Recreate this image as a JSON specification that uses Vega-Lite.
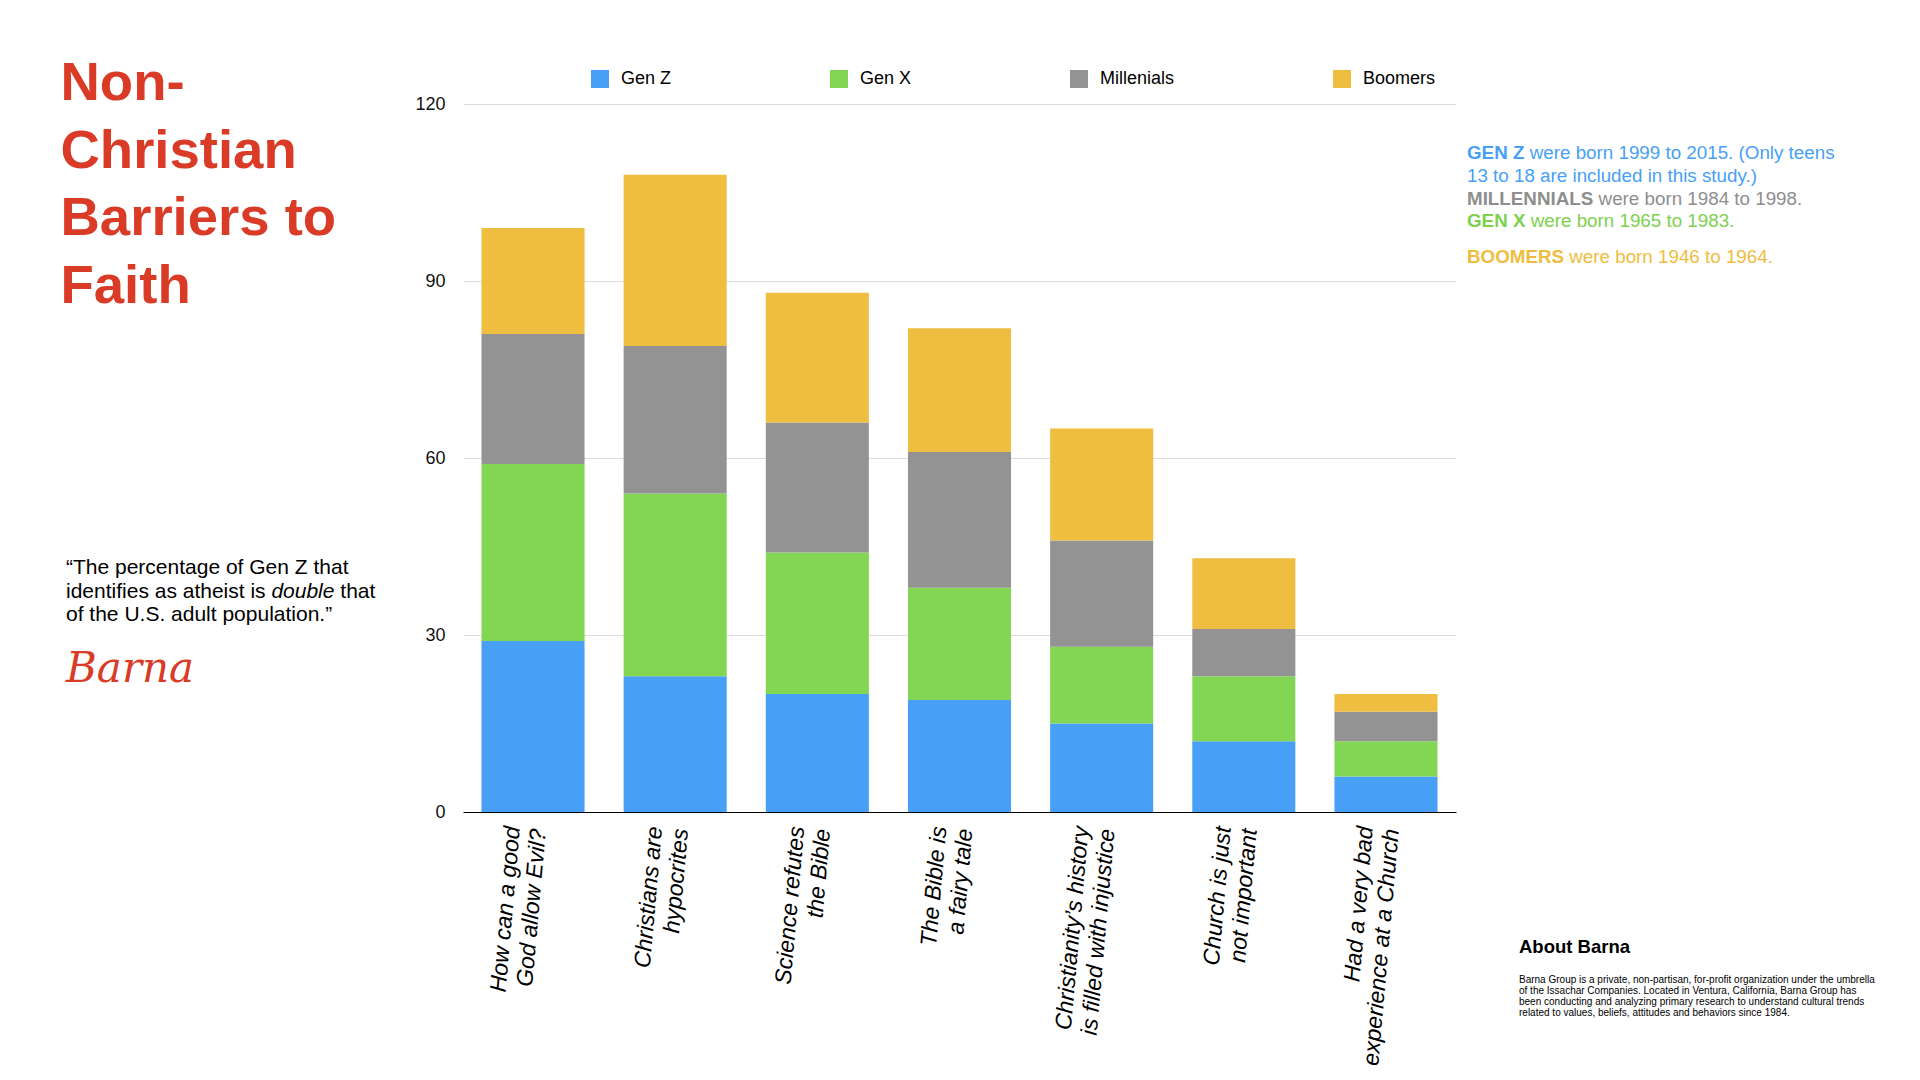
{
  "$schema": "https://vega.github.io/schema/vega-lite/v6.json",
  "width": 993,
  "height": 708,
  "autosize": {"type": "none"},
  "padding": {"left": 463, "top": 104, "right": 464, "bottom": 268},
  "background": "white",
  "config": {
    "view": {"stroke": null},
    "font": "Liberation Sans"
  },
  "layer": [
    {
      "data": {
        "values": [
          {"question": "How can a good\nGod allow Evil?", "generation": "Gen Z", "value": 29},
          {"question": "How can a good\nGod allow Evil?", "generation": "Gen X", "value": 30},
          {"question": "How can a good\nGod allow Evil?", "generation": "Millenials", "value": 22},
          {"question": "How can a good\nGod allow Evil?", "generation": "Boomers", "value": 18},
          {"question": "Christians are\nhypocrites", "generation": "Gen Z", "value": 23},
          {"question": "Christians are\nhypocrites", "generation": "Gen X", "value": 31},
          {"question": "Christians are\nhypocrites", "generation": "Millenials", "value": 25},
          {"question": "Christians are\nhypocrites", "generation": "Boomers", "value": 29},
          {"question": "Science refutes\nthe Bible", "generation": "Gen Z", "value": 20},
          {"question": "Science refutes\nthe Bible", "generation": "Gen X", "value": 24},
          {"question": "Science refutes\nthe Bible", "generation": "Millenials", "value": 22},
          {"question": "Science refutes\nthe Bible", "generation": "Boomers", "value": 22},
          {"question": "The Bible is\na fairy tale", "generation": "Gen Z", "value": 19},
          {"question": "The Bible is\na fairy tale", "generation": "Gen X", "value": 19},
          {"question": "The Bible is\na fairy tale", "generation": "Millenials", "value": 23},
          {"question": "The Bible is\na fairy tale", "generation": "Boomers", "value": 21},
          {"question": "Christianity’s history\nis filled with injustice", "generation": "Gen Z", "value": 15},
          {"question": "Christianity’s history\nis filled with injustice", "generation": "Gen X", "value": 13},
          {"question": "Christianity’s history\nis filled with injustice", "generation": "Millenials", "value": 18},
          {"question": "Christianity’s history\nis filled with injustice", "generation": "Boomers", "value": 19},
          {"question": "Church is just\nnot important", "generation": "Gen Z", "value": 12},
          {"question": "Church is just\nnot important", "generation": "Gen X", "value": 11},
          {"question": "Church is just\nnot important", "generation": "Millenials", "value": 8},
          {"question": "Church is just\nnot important", "generation": "Boomers", "value": 12},
          {"question": "Had a very bad\nexperience at a Church", "generation": "Gen Z", "value": 6},
          {"question": "Had a very bad\nexperience at a Church", "generation": "Gen X", "value": 6},
          {"question": "Had a very bad\nexperience at a Church", "generation": "Millenials", "value": 5},
          {"question": "Had a very bad\nexperience at a Church", "generation": "Boomers", "value": 3}
        ]
      },
      "transform": [
        {"window": [{"op": "row_number", "as": "stack_rank"}], "groupby": ["question"]}
      ],
      "mark": {"type": "bar"},
      "encoding": {
        "x": {
          "field": "question",
          "type": "nominal",
          "sort": null,
          "scale": {"paddingInner": 0.275, "paddingOuter": 0.13},
          "axis": {
            "title": null,
            "ticks": false,
            "domain": true,
            "domainColor": "#000000",
            "domainWidth": 1.2,
            "grid": false,
            "labelExpr": "split(datum.value, '\\n')",
            "labelAngle": -85,
            "labelAlign": "right",
            "labelBaseline": "middle",
            "labelFontStyle": "italic",
            "labelFont": "Liberation Sans",
            "labelFontSize": 23,
            "labelLineHeight": 26,
            "labelPadding": 14,
            "labelOffset": -20,
            "labelLimit": 0,
            "labelColor": "#000000",
            "labelOverlap": false,
            "labelBound": false
          }
        },
        "y": {
          "field": "value",
          "type": "quantitative",
          "stack": "zero",
          "scale": {"domain": [0, 120], "nice": false},
          "axis": {
            "title": null,
            "values": [0, 30, 60, 90, 120],
            "domain": false,
            "ticks": false,
            "grid": true,
            "gridColor": "#DCDCDC",
            "gridWidth": 1,
            "labelFont": "Liberation Sans",
            "labelFontSize": 18,
            "labelPadding": 18,
            "labelColor": "#111111"
          }
        },
        "color": {
          "field": "generation",
          "type": "nominal",
          "scale": {
            "domain": ["Gen Z", "Gen X", "Millenials", "Boomers"],
            "range": ["#489FF6", "#83D654", "#939393", "#EFBD40"]
          },
          "legend": {
            "title": null,
            "orient": "none",
            "legendX": 128,
            "legendY": -34,
            "direction": "horizontal",
            "columns": 4,
            "gridAlign": "each",
            "columnPadding": 158,
            "symbolType": "square",
            "symbolSize": 324,
            "symbolStrokeWidth": 0,
            "symbolOpacity": 1,
            "labelFont": "Liberation Sans",
            "labelFontSize": 18,
            "labelOffset": 12,
            "labelColor": "#000000"
          }
        },
        "order": {"field": "stack_rank", "type": "quantitative"}
      }
    },
    {
      "data": {"values": [{}]},
      "mark": {"type": "text", "text": ["Non-", "Christian", "Barriers to", "Faith"], "x": -402.5, "y": -4, "align": "left", "baseline": "alphabetic", "font": "Liberation Sans", "fontWeight": "bold", "fontSize": 54.5, "lineHeight": 67.5, "color": "#D93B27"},
      "encoding": {}
    },
    {
      "data": {"values": [{}]},
      "mark": {"type": "text", "text": "“The percentage of Gen Z that", "x": -397, "y": 470, "align": "left", "baseline": "alphabetic", "font": "Liberation Sans", "fontSize": 21, "color": "#000000"},
      "encoding": {}
    },
    {
      "data": {"values": [{}]},
      "mark": {"type": "text", "text": "identifies as atheist is", "x": -397, "y": 493.5, "align": "left", "baseline": "alphabetic", "font": "Liberation Sans", "fontSize": 21, "color": "#000000"},
      "encoding": {}
    },
    {
      "data": {"values": [{}]},
      "mark": {"type": "text", "text": "double", "x": -191.6, "y": 493.5, "align": "left", "baseline": "alphabetic", "font": "Liberation Sans", "fontStyle": "italic", "fontSize": 21, "color": "#000000"},
      "encoding": {}
    },
    {
      "data": {"values": [{}]},
      "mark": {"type": "text", "text": "that", "x": -122.7, "y": 493.5, "align": "left", "baseline": "alphabetic", "font": "Liberation Sans", "fontSize": 21, "color": "#000000"},
      "encoding": {}
    },
    {
      "data": {"values": [{}]},
      "mark": {"type": "text", "text": "of the U.S. adult population.”", "x": -397, "y": 517, "align": "left", "baseline": "alphabetic", "font": "Liberation Sans", "fontSize": 21, "color": "#000000"},
      "encoding": {}
    },
    {
      "data": {"values": [{}]},
      "mark": {"type": "text", "text": "Barna", "x": -397, "y": 578, "align": "left", "baseline": "alphabetic", "font": "DejaVu Serif", "fontStyle": "italic", "fontSize": 42, "color": "#D93B27"},
      "encoding": {}
    },
    {
      "data": {"values": [{}]},
      "mark": {"type": "text", "text": "GEN Z", "x": 1004, "y": 54.5, "align": "left", "baseline": "alphabetic", "font": "Liberation Sans", "fontWeight": "bold", "fontSize": 18.8, "color": "#489FF6"},
      "encoding": {}
    },
    {
      "data": {"values": [{}]},
      "mark": {"type": "text", "text": "were born 1999 to 2015. (Only teens", "x": 1066.7, "y": 54.5, "align": "left", "baseline": "alphabetic", "font": "Liberation Sans", "fontSize": 18.8, "color": "#489FF6"},
      "encoding": {}
    },
    {
      "data": {"values": [{}]},
      "mark": {"type": "text", "text": "13 to 18 are included in this study.)", "x": 1004, "y": 77.5, "align": "left", "baseline": "alphabetic", "font": "Liberation Sans", "fontSize": 18.8, "color": "#489FF6"},
      "encoding": {}
    },
    {
      "data": {"values": [{}]},
      "mark": {"type": "text", "text": "MILLENNIALS", "x": 1004, "y": 100.5, "align": "left", "baseline": "alphabetic", "font": "Liberation Sans", "fontWeight": "bold", "fontSize": 18.8, "color": "#8E8E8E"},
      "encoding": {}
    },
    {
      "data": {"values": [{}]},
      "mark": {"type": "text", "text": "were born 1984 to 1998.", "x": 1135.6, "y": 100.5, "align": "left", "baseline": "alphabetic", "font": "Liberation Sans", "fontSize": 18.8, "color": "#8E8E8E"},
      "encoding": {}
    },
    {
      "data": {"values": [{}]},
      "mark": {"type": "text", "text": "GEN X", "x": 1004, "y": 122.5, "align": "left", "baseline": "alphabetic", "font": "Liberation Sans", "fontWeight": "bold", "fontSize": 18.8, "color": "#7ED04F"},
      "encoding": {}
    },
    {
      "data": {"values": [{}]},
      "mark": {"type": "text", "text": "were born 1965 to 1983.", "x": 1067.7, "y": 122.5, "align": "left", "baseline": "alphabetic", "font": "Liberation Sans", "fontSize": 18.8, "color": "#7ED04F"},
      "encoding": {}
    },
    {
      "data": {"values": [{}]},
      "mark": {"type": "text", "text": "BOOMERS", "x": 1004, "y": 158.5, "align": "left", "baseline": "alphabetic", "font": "Liberation Sans", "fontWeight": "bold", "fontSize": 18.8, "color": "#F0BC3E"},
      "encoding": {}
    },
    {
      "data": {"values": [{}]},
      "mark": {"type": "text", "text": "were born 1946 to 1964.", "x": 1106.3, "y": 158.5, "align": "left", "baseline": "alphabetic", "font": "Liberation Sans", "fontSize": 18.8, "color": "#F0BC3E"},
      "encoding": {}
    },
    {
      "data": {"values": [{}]},
      "mark": {"type": "text", "text": "About Barna", "x": 1056, "y": 849, "align": "left", "baseline": "alphabetic", "font": "Liberation Sans", "fontWeight": "bold", "fontSize": 18.5, "color": "#000000"},
      "encoding": {}
    },
    {
      "data": {"values": [{}]},
      "mark": {"type": "text", "text": ["Barna Group is a private, non-partisan, for-profit organization under the umbrella", "of the Issachar Companies. Located in Ventura, California, Barna Group has", "been conducting and analyzing primary research to understand cultural trends", "related to values, beliefs, attitudes and behaviors since 1984."], "x": 1056, "y": 879, "align": "left", "baseline": "alphabetic", "font": "Liberation Sans", "fontSize": 10, "lineHeight": 11, "color": "#000000"},
      "encoding": {}
    }
  ]
}
